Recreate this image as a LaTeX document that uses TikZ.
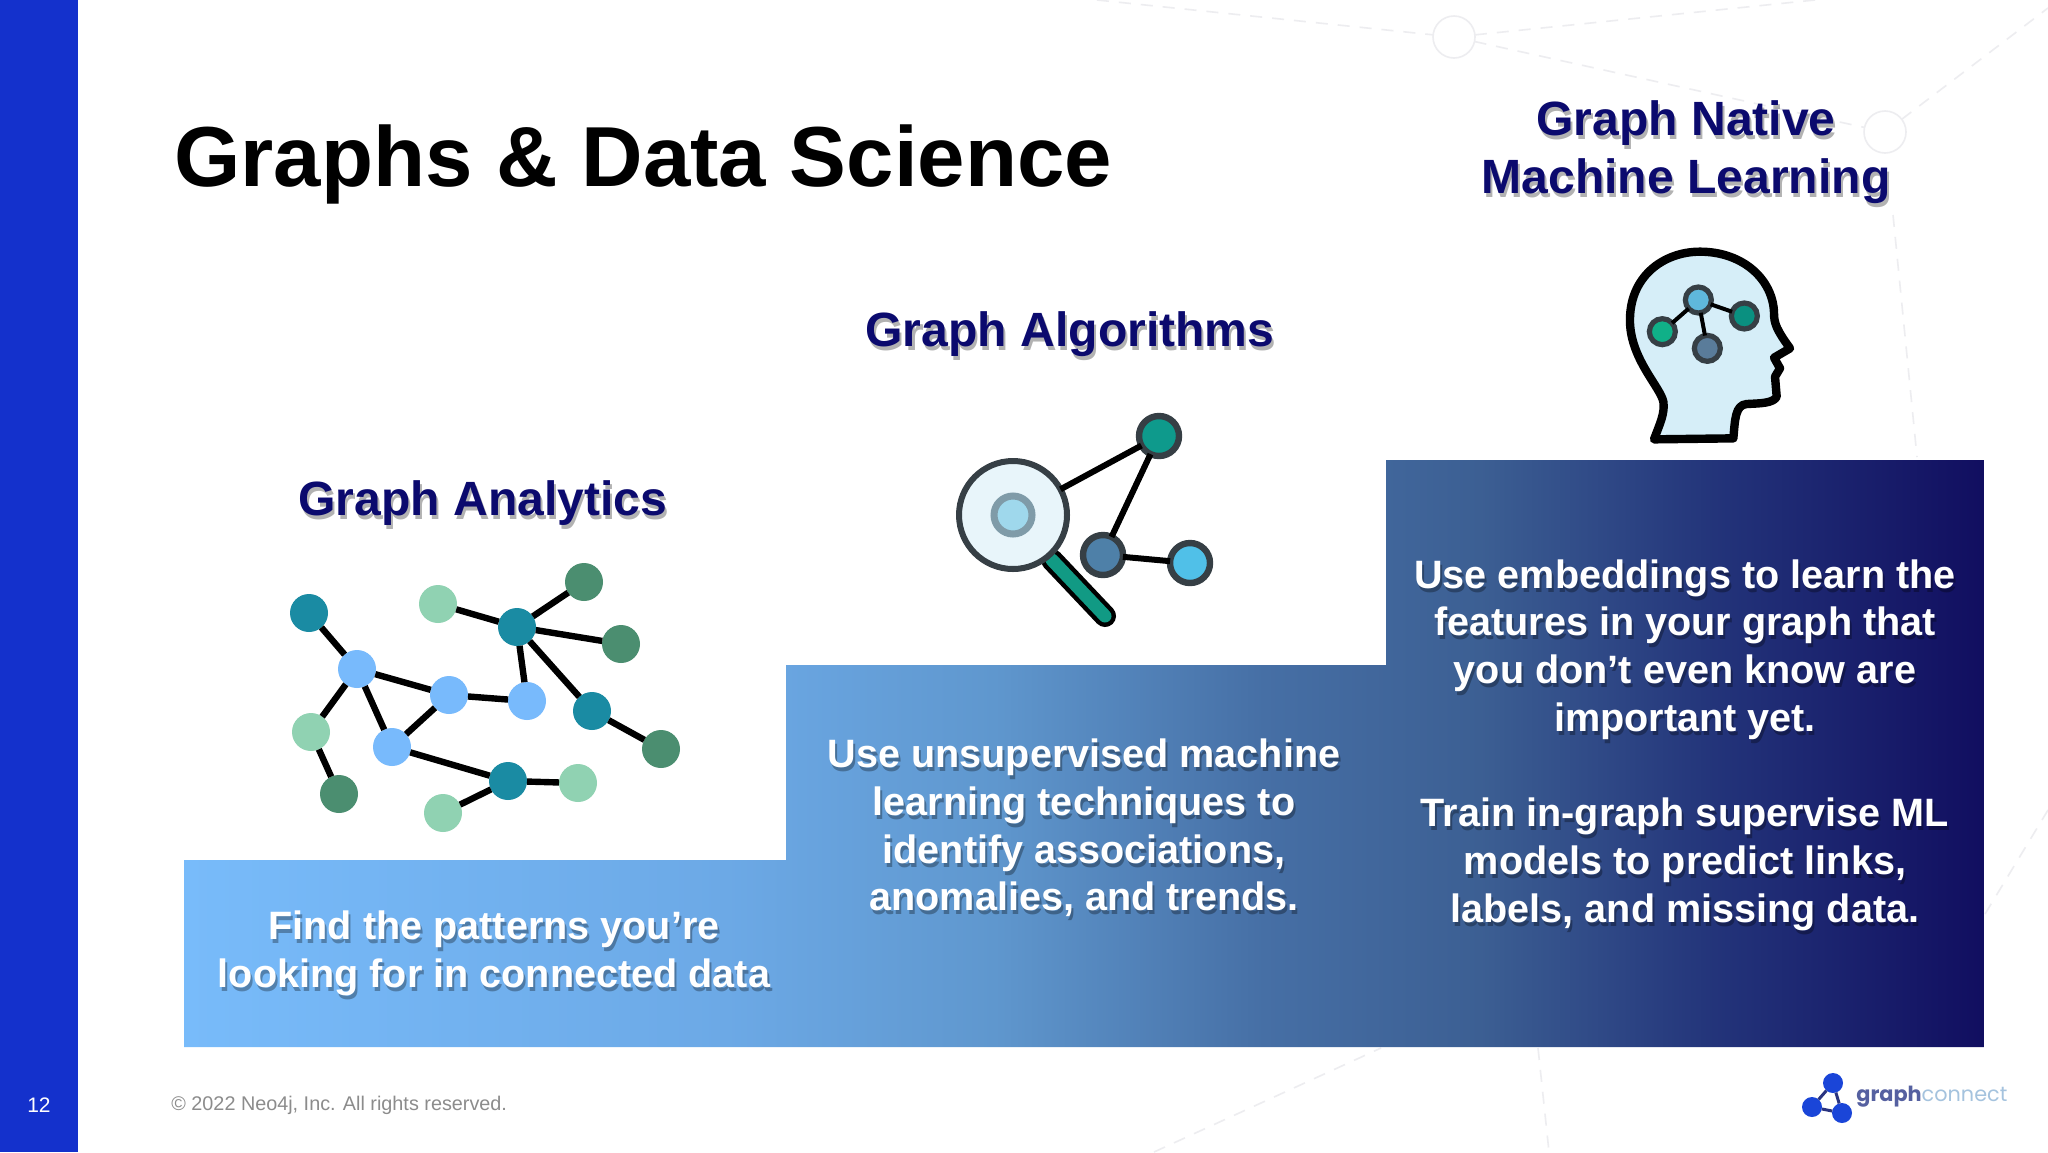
\documentclass[tikz,border=0pt]{standalone}
\usepackage{fontspec}
\setmainfont{Liberation Sans}
\newfontfamily\logofont{Poppins}
\definecolor{navy}{HTML}{0B0A6E}
\definecolor{barblue}{HTML}{1431CC}
\definecolor{bgline}{HTML}{EDEDF0}
\definecolor{stroke}{HTML}{363F45}
\definecolor{nteal}{HTML}{1A8BA3}
\definecolor{nblue}{HTML}{78BAFC}
\definecolor{nlgreen}{HTML}{90D2B2}
\definecolor{ndgreen}{HTML}{4B8E70}
\definecolor{ringgray}{HTML}{7F9BA8}
\definecolor{lensfill}{HTML}{E8F5FA}
\definecolor{ringfill}{HTML}{9FD8EC}
\definecolor{itopfill}{HTML}{0E9A8C}
\definecolor{imidfill}{HTML}{4E80A8}
\definecolor{irightfill}{HTML}{50C0E8}
\definecolor{handlefill}{HTML}{119A84}
\definecolor{headfill}{HTML}{D6EEF8}
\definecolor{honefill}{HTML}{5FB8DC}
\definecolor{htwofill}{HTML}{0A9080}
\definecolor{hthreefill}{HTML}{10B088}
\definecolor{hfourfill}{HTML}{5A7C9A}
\definecolor{logoblue}{HTML}{1A45D8}
\definecolor{logoedge}{HTML}{2A3480}
\definecolor{logograph}{HTML}{5560A0}
\definecolor{logoconnect}{HTML}{A5C3DE}
\definecolor{c0}{HTML}{78BBFA}
\definecolor{c1}{HTML}{6CA9E6}
\definecolor{c2}{HTML}{5F97CE}
\definecolor{c3}{HTML}{466FA5}
\definecolor{c4}{HTML}{3C5F93}
\definecolor{c5}{HTML}{23347A}
\definecolor{c6}{HTML}{110E60}
\pgfdeclarehorizontalshading{stairs}{100bp}{
 color(0bp)=(c0); color(25bp)=(c0); color(40bp)=(c1); color(47.5bp)=(c2);
 color(55bp)=(c3); color(61bp)=(c4); color(67.5bp)=(c5); color(75bp)=(c6); color(100bp)=(c6)}
\tikzset{
 dot/.style={circle,inner sep=0pt,outer sep=0pt,minimum size=19pt},
 tealdot/.style={dot,fill=nteal},
 bluedot/.style={dot,fill=nblue},
 lgdot/.style={dot,fill=nlgreen},
 dgdot/.style={dot,fill=ndgreen},
 edge/.style={black,line width=3.2pt},
 icon/.style={circle,inner sep=0pt,outer sep=0pt,draw=stroke,line width=3.2pt,minimum size=20pt},
 headdot/.style={circle,inner sep=0pt,outer sep=0pt,draw=stroke,line width=2.6pt,minimum size=13pt},
 iconedge/.style={stroke,line width=3pt},
 bgedge/.style={bgline,line width=.8pt,dash pattern=on 6pt off 5pt},
 bgcircle/.style={circle,draw=bgline,line width=.8pt,inner sep=0pt,outer sep=0pt,minimum size=21pt},
 headtext/.style={align=center,font=\fontsize{24.05}{29}\selectfont\bfseries},
 bodytext/.style={align=center,font=\fontsize{19.8}{23.85}\selectfont\bfseries},
 logodot/.style={circle,fill=logoblue,inner sep=0pt,outer sep=0pt,minimum size=10pt},
}
\newcommand{\softtext}[5]{% name, x, y, style, text
 \node[#4,text=black,opacity=.3] (#1s) at (#2+2,#3+4) {#5};
}
\begin{document}
\begin{tikzpicture}[x=.5pt,y=-.5pt]
\useasboundingbox (0,0) rectangle (2048,1152);
\fill[white] (0,0) rectangle (2048,1152);
% faint background network
\node[bgcircle] (bgA) at (1454,37) {};
\node[bgcircle] (bgB) at (1885,132) {};
\coordinate (bg1) at (1097,0);
\coordinate (bg2) at (1815,0);
\coordinate (bg3) at (2048,8);
\coordinate (bg4) at (1917,457);
\coordinate (bg5) at (1893,215);
\coordinate (bg6) at (1154,1152);
\coordinate (bg7) at (1381,1048);
\coordinate (bg8) at (1538,1048);
\coordinate (bg9) at (1549,1152);
\coordinate (bg10) at (1985,914);
\coordinate (bg11) at (2048,810);
\draw[bgedge] (bg1) -- (bgA);
\draw[bgedge] (bgA) -- (bg2);
\draw[bgedge] (bgA) -- (bgB);
\draw[bgedge] (bgB) -- (bg3);
\draw[bgedge] (bg5) -- (bg4);
\draw[bgedge] (bg6) -- (bg7);
\draw[bgedge] (bg8) -- (bg9);
\draw[bgedge] (bg10) -- (bg11);
% side bar
\fill[barblue] (0,0) rectangle (78,1152);
\node[text=white,font=\fontsize{10.5}{12}\selectfont] (pagenum) at (39,1105) {12};
% title
\node[anchor=west,inner sep=0pt,font=\fontsize{42.6}{50}\selectfont\bfseries] (title) at (174,164) {Graphs \& Data Science};
% stairs
\shade[shading=stairs] (184,860) -- (786,860) -- (786,665) -- (1386,665) -- (1386,460) -- (1984,460) -- (1984,1047) -- (184,1047) -- cycle;
% headings
\softtext{hA}{483}{503}{headtext}{Graph Analytics}
\node[headtext,text=navy] (headA) at (483,503) {Graph Analytics};
\softtext{hB}{1070}{334}{headtext}{Graph Algorithms}
\node[headtext,text=navy] (headB) at (1070,334) {Graph Algorithms};
\softtext{hC}{1686}{152}{headtext}{Graph Native\\Machine Learning}
\node[headtext,text=navy] (headC) at (1686,152) {Graph Native\\Machine Learning};
% body texts
\softtext{bA}{494}{953}{bodytext}{Find the patterns you’re\\looking for in connected data}
\node[bodytext,text=white] (bodyA) at (494,953) {Find the patterns you’re\\looking for in connected data};
\softtext{bB}{1084}{828}{bodytext}{Use unsupervised machine\\learning techniques to\\identify associations,\\anomalies, and trends.}
\node[bodytext,text=white] (bodyB) at (1084,828) {Use unsupervised machine\\learning techniques to\\identify associations,\\anomalies, and trends.};
\softtext{bC}{1685}{745}{bodytext}{Use embeddings to learn the\\features in your graph that\\you don’t even know are\\important yet.\\[23.85pt]Train in-graph supervise ML\\models to predict links,\\labels, and missing data.}
\node[bodytext,text=white] (bodyC) at (1685,745) {Use embeddings to learn the\\features in your graph that\\you don’t even know are\\important yet.\\[23.85pt]Train in-graph supervise ML\\models to predict links,\\labels, and missing data.};
% graph analytics network
\node[tealdot] (a1) at (309,613) {};
\node[bluedot] (b1) at (357,669) {};
\node[lgdot] (c1) at (311,732) {};
\node[dgdot] (d1) at (339,794) {};
\node[bluedot] (b2) at (392,747) {};
\node[bluedot] (b3) at (449,695) {};
\node[bluedot] (b4) at (527,701) {};
\node[tealdot] (t2) at (517,627) {};
\node[lgdot] (l2) at (438,604) {};
\node[dgdot] (g2) at (584,582) {};
\node[dgdot] (g3) at (621,644) {};
\node[tealdot] (t3) at (592,711) {};
\node[dgdot] (g4) at (661,749) {};
\node[tealdot] (t4) at (508,781) {};
\node[lgdot] (l3) at (578,783) {};
\node[lgdot] (l4) at (443,813) {};
\foreach \p/\q in {a1/b1,b1/c1,c1/d1,b1/b2,b1/b3,b2/b3,b3/b4,b4/t2,t2/l2,t2/g2,t2/g3,t2/t3,t3/g4,b2/t4,t4/l3,t4/l4}
  \draw[edge] (\p) -- (\q);
% algorithm icon
\coordinate (hs) at (1052,560);
\coordinate (he) at (1105,616);
\draw[stroke,line width=11pt,line cap=round] (hs) -- (he);
\draw[handlefill,line width=6.5pt,line cap=round] (hs) -- (he);
\node[circle,inner sep=0pt,outer sep=0pt,draw=stroke,line width=3pt,fill=lensfill,minimum size=54pt] (lens) at (1013,515) {};
\node[circle,inner sep=0pt,outer sep=0pt,draw=ringgray,line width=3.5pt,fill=ringfill,minimum size=19pt] (target) at (1013,515) {};
\node[icon,fill=itopfill] (itop) at (1159,436) {};
\node[icon,fill=imidfill] (imid) at (1103,555) {};
\node[icon,fill=irightfill] (iright) at (1190,563) {};
\draw[iconedge,draw=ringgray] (target) -- (lens);
\draw[iconedge] (lens) -- (itop);
\draw[iconedge] (itop) -- (imid);
\draw[iconedge] (imid) -- (iright);
% head icon
\begin{scope}[shift={(1600,230)},x=.16667pt,y=-.16667pt]
\draw[stroke,line width=4.2pt,fill=headfill,line join=round]
 (162,628) .. controls (180,580) and (195,550) .. (190,515)
 .. controls (180,470) and (95,390) .. (90,280)
 .. controls (85,140) and (190,65) .. (300,65)
 .. controls (430,65) and (520,150) .. (522,250)
 .. controls (522,280) and (530,300) .. (570,355)
 -- (522,383) -- (540,415) -- (525,440) -- (530,500)
 .. controls (520,520) and (480,520) .. (440,522)
 .. controls (405,525) and (405,570) .. (400,625) -- cycle;
\node[headdot,fill=honefill] (h1) at (295,210) {};
\node[headdot,fill=htwofill] (h2) at (433,258) {};
\node[headdot,fill=hthreefill] (h3) at (187,305) {};
\node[headdot,fill=hfourfill] (h4) at (322,355) {};
\draw[stroke,line width=2pt] (h1) -- (h2);
\draw[stroke,line width=2pt] (h1) -- (h3);
\draw[stroke,line width=2pt] (h1) -- (h4);
\end{scope}
% footer
\node[anchor=west,inner sep=0pt,text=black!45,font=\fontsize{9.9}{12}\selectfont] (copyright) at (171,1105) {© 2022 Neo4j, Inc. All rights reserved.};
% logo
\node[logodot] (lg1) at (1833,1083) {};
\node[logodot] (lg2) at (1812,1107) {};
\node[logodot] (lg3) at (1842,1113) {};
\draw[logoedge,line width=1.5pt] (lg1) -- (lg2);
\draw[logoedge,line width=1.5pt] (lg2) -- (lg3);
\draw[logoedge,line width=1.5pt] (lg3) -- (lg1);
\node[anchor=west,inner sep=0pt,font=\fontsize{10.4}{12}\selectfont\logofont] (logotext) at (1856,1097) {\textcolor{logograph}{\bfseries graph}\textcolor{logoconnect}{connect}};
\end{tikzpicture}
\end{document}
